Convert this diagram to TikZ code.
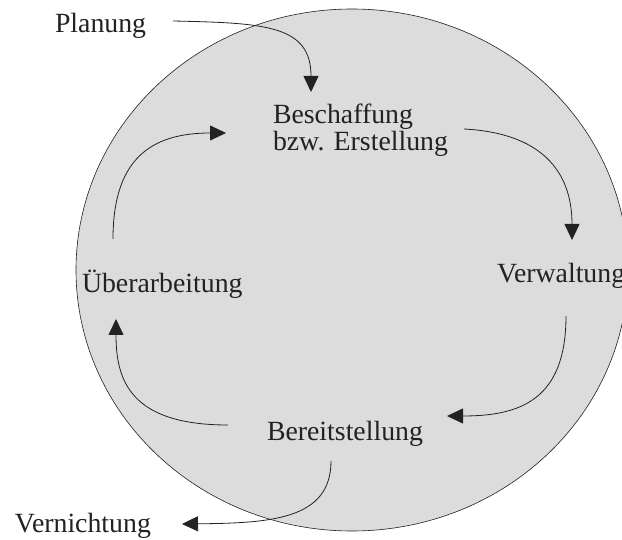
\documentclass[tikz,border=0pt]{standalone}
\usepackage{fontspec}
\setmainfont{Liberation Serif}
\usetikzlibrary{arrows.meta}
\definecolor{discfill}{HTML}{DCDCDC}
\definecolor{ink}{HTML}{222222}
\tikzset{
  label/.style={inner sep=0pt, outer sep=0pt, text=ink, font=\fontsize{27.8}{25}\selectfont, anchor=base west},
  flow/.style={draw=ink, line width=0.8pt, -{Triangle[length=16pt,width=15pt]}},
}
\begin{document}
\begin{tikzpicture}[x=1pt,y=-1pt]
\useasboundingbox (0,0) rectangle (622,540);
\clip (0,0) rectangle (622,540);
\fill[white] (0,0) rectangle (622,540);
\draw[fill=discfill, draw=ink, line width=0.6pt] (352,270) ellipse [x radius=276, y radius=261];
% labels
\node[label] (plan) at (55,33) {Planung};
\node[label, anchor=north west, align=left] (besch) at (273,104.3) {Beschaffung\\bzw. Erstellung};
\node[label] (verw) at (497,283) {Verwaltung};
\node[label] (ueber) at (82,293) {Überarbeitung};
\node[label] (bereit) at (267,440) {Bereitstellung};
\node[label] (vern) at (15,532) {Vernichtung};
% connector ends
\coordinate (a1s) at (173,21);  \coordinate (a1e) at (311,92);
\coordinate (a2s) at (464,129); \coordinate (a2e) at (572,240);
\coordinate (a3s) at (566,316); \coordinate (a3e) at (447,416);
\coordinate (a4s) at (228,425); \coordinate (a4e) at (116,319);
\coordinate (a5s) at (113,239); \coordinate (a5e) at (226,133);
\coordinate (a6s) at (331,461); \coordinate (a6e) at (182,524);
% connectors
\draw[flow] (a1s) .. controls (265,23) and (311,25) .. (a1e);
\draw[flow] (a2s) .. controls (540,133) and (572,170) .. (a2e);
\draw[flow] (a3s) .. controls (566,400) and (520,416) .. (a3e);
\draw[flow] (a4s) .. controls (130,425) and (116,380) .. (a4e);
\draw[flow] (a5s) .. controls (113,160) and (150,133) .. (a5e);
\draw[flow] (a6s) .. controls (331,520) and (270,523) .. (a6e);
\end{tikzpicture}
\end{document}
